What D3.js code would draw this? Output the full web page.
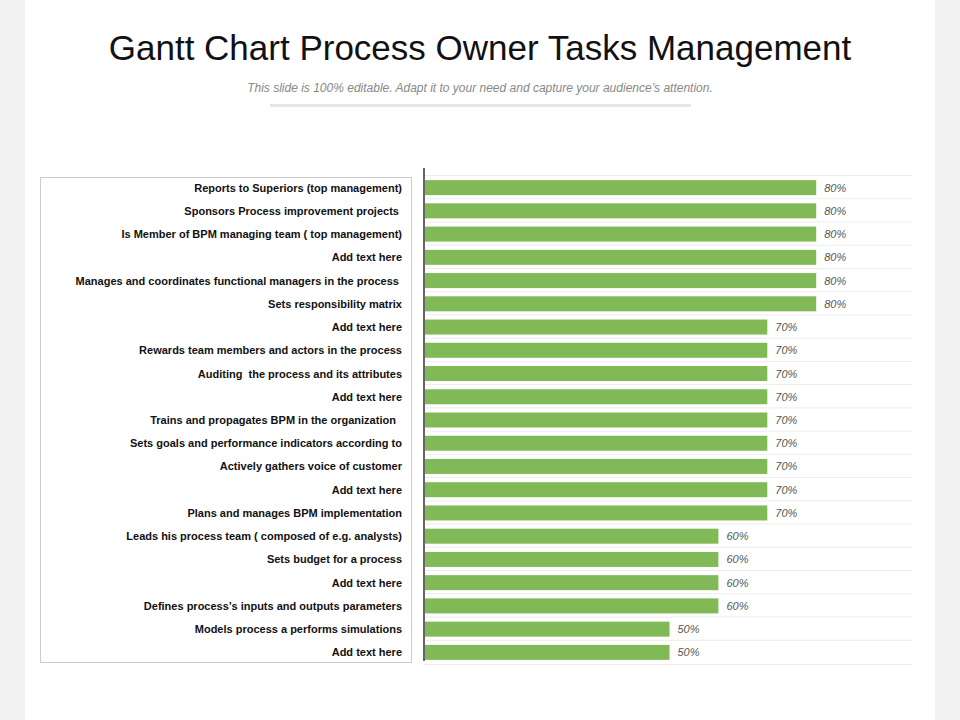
<!DOCTYPE html><html><head><meta charset="utf-8"><script src="https://d3js.org/d3.v7.min.js"></script>
<style>body{margin:0;background:#f2f2f2}</style></head><body><svg id="c" width="960" height="720"></svg><script>
const categories=["Reports to Superiors (top management)","Sponsors Process improvement projects ","Is Member of BPM managing team ( top management)","Add text here","Manages and coordinates functional managers in the process ","Sets responsibility matrix","Add text here","Rewards team members and actors in the process","Auditing  the process and its attributes","Add text here","Trains and propagates BPM in the organization  ","Sets goals and performance indicators according to","Actively gathers voice of customer","Add text here","Plans and manages BPM implementation","Leads his process team ( composed of e.g. analysts)","Sets budget for a process","Add text here","Defines process’s inputs and outputs parameters","Models process a performs simulations","Add text here"];
const values=[80,80,80,80,80,80,70,70,70,70,70,70,70,70,70,60,60,60,60,50,50];
const svg=d3.select("#c");
svg.append("rect").attr("x",25).attr("y",0).attr("width",910).attr("height",720).attr("fill","#fff");
svg.append("text").attr("x",480).attr("y",60).attr("text-anchor","middle").attr("font-family","Liberation Sans, Arial").attr("font-size",35).attr("fill","#111").text("Gantt Chart Process Owner Tasks Management");
svg.append("text").attr("x",480).attr("y",92).attr("text-anchor","middle").attr("font-family","Liberation Sans, Arial").attr("font-style","italic").attr("font-size",12).attr("fill","#888").text("This slide is 100% editable. Adapt it to your need and capture your audience’s attention.");
svg.append("rect").attr("x",270).attr("y",104).attr("width",421).attr("height",3).attr("fill","#e6e6e6");
const x=d3.scaleLinear().domain([0,100]).range([425,914]);
const y=d3.scaleBand().domain(d3.range(categories.length)).range([176,664]).paddingInner(0).paddingOuter(0);
svg.append("rect").attr("x",40.5).attr("y",177.5).attr("width",371).attr("height",485).attr("fill","none").attr("stroke","#ccc");
const g=svg.append("g");
g.selectAll("line.sep").data(d3.range(categories.length+1)).join("line").attr("x1",424).attr("x2",912)
 .attr("y1",i=>i<categories.length?y(i)-0.5:664.5).attr("y2",i=>i<categories.length?y(i)-0.5:664.5).attr("stroke","#ececec");
g.selectAll("rect.bar").data(values).join("rect").attr("x",x(0)).attr("y",(d,i)=>y(i)+y.bandwidth()/2-7.5).attr("height",15).attr("width",d=>x(d)-x(0)).attr("fill","#82b957");
g.selectAll("text.v").data(values).join("text").attr("x",d=>x(d)+8).attr("y",(d,i)=>y(i)+y.bandwidth()/2+4).attr("font-family","Liberation Sans, Arial").attr("font-style","italic").attr("font-size",11).attr("fill","#555").text(d=>d+"%");
g.selectAll("text.l").data(categories).join("text").attr("x",402).attr("y",(d,i)=>y(i)+y.bandwidth()/2+4).attr("text-anchor","end").attr("font-family","Liberation Sans, Arial").attr("font-weight","bold").attr("font-size",11).attr("fill","#111").attr("xml:space","preserve").text(d=>d);
svg.append("line").attr("x1",424).attr("x2",424).attr("y1",168).attr("y2",661).attr("stroke","#666").attr("stroke-width",2);
</script></body></html>
